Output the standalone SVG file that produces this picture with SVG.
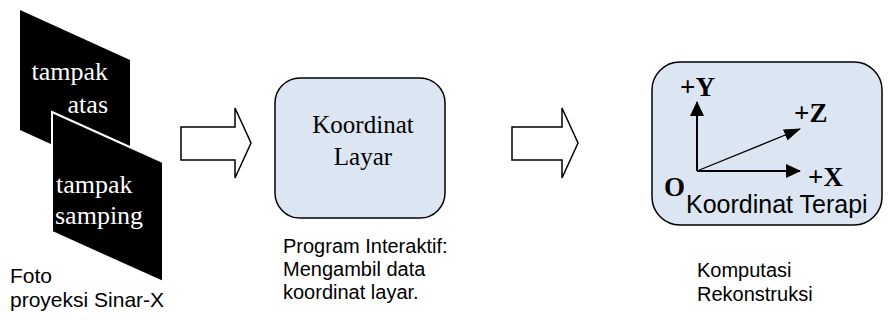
<svg xmlns="http://www.w3.org/2000/svg" width="888" height="320" viewBox="0 0 888 320">
<defs>
<style>
.serif{font-family:"Liberation Serif","Times New Roman",serif;}
.sans{font-family:"Liberation Sans",Arial,sans-serif;font-size:20px;fill:#000;}
.s21{font-size:21px;}
.s25{font-size:25px;}
.wt{fill:#fff;font-size:26px;}
.box{fill:#dce6f2;stroke:#000;stroke-width:1.5;}
.ax{fill:#000;font-weight:bold;font-size:27px;}
.bigarrow{fill:#fff;stroke:#000;stroke-width:1.5;}
.axis{stroke:#000;stroke-width:2;}
</style>
<marker id="ah" markerWidth="15" markerHeight="14" refX="14" refY="7" orient="auto" markerUnits="userSpaceOnUse">
<path d="M0,0 L15,7 L0,14 Z" fill="#000"/>
</marker>
<marker id="ahz" markerWidth="17" markerHeight="12" refX="16" refY="6" orient="auto" markerUnits="userSpaceOnUse">
<path d="M0,0 L17,6 L0,12 Z" fill="#000"/>
</marker>
</defs>
<g id="foto">
<polygon points="20,10 130,60 130,180 20,130" fill="#000"/>
<text class="serif wt" x="108" y="80" text-anchor="end">tampak</text>
<text class="serif wt" x="108" y="113" text-anchor="end">atas</text>
<polygon points="52,112 163,162 163,282 52,232" fill="#000" stroke="#fff" stroke-width="2"/>
<text class="serif wt" x="56" y="193">tampak</text>
<text class="serif wt" x="55" y="224">samping</text>
<text class="sans s21" x="10" y="283">Foto</text>
<text class="sans s21" x="10" y="307">proyeksi Sinar-X</text>
</g>
<g id="layar">
<rect class="box" x="275" y="78" width="170" height="140" rx="25"/>
<text class="serif s25" x="363" y="133" text-anchor="middle">Koordinat</text>
<text class="serif s25" x="363" y="165" text-anchor="middle">Layar</text>
<text class="sans" x="283" y="253">Program Interaktif:</text>
<text class="sans" x="283" y="276">Mengambil data</text>
<text class="sans" x="283" y="299">koordinat layar.</text>
</g>
<g id="terapi">
<rect class="box" x="652" y="62" width="230" height="163" rx="28"/>
<line class="axis" x1="697" y1="171" x2="697" y2="102" marker-end="url(#ah)"/>
<line class="axis" x1="697" y1="171" x2="800" y2="171" marker-end="url(#ah)"/>
<line x1="697" y1="171" x2="800" y2="129" stroke="#000" stroke-width="1.3" marker-end="url(#ahz)"/>
<text class="serif ax" x="680" y="96">+Y</text>
<text class="serif ax" x="794" y="122">+Z</text>
<text class="serif ax" x="808" y="186">+X</text>
<text class="serif ax" x="664" y="196">O</text>
<text class="sans s25" x="686" y="213">Koordinat Terapi</text>
<text class="sans" x="697" y="277">Komputasi</text>
<text class="sans" x="697" y="301">Rekonstruksi</text>
</g>
<g id="connectors">
<polygon class="bigarrow" points="181,127 235,127 235,108 251,143 235,178 235,160 181,160"/>
<polygon class="bigarrow" points="512,127 562,127 562,108 578,143 562,178 562,160 512,160"/>
</g>
</svg>
